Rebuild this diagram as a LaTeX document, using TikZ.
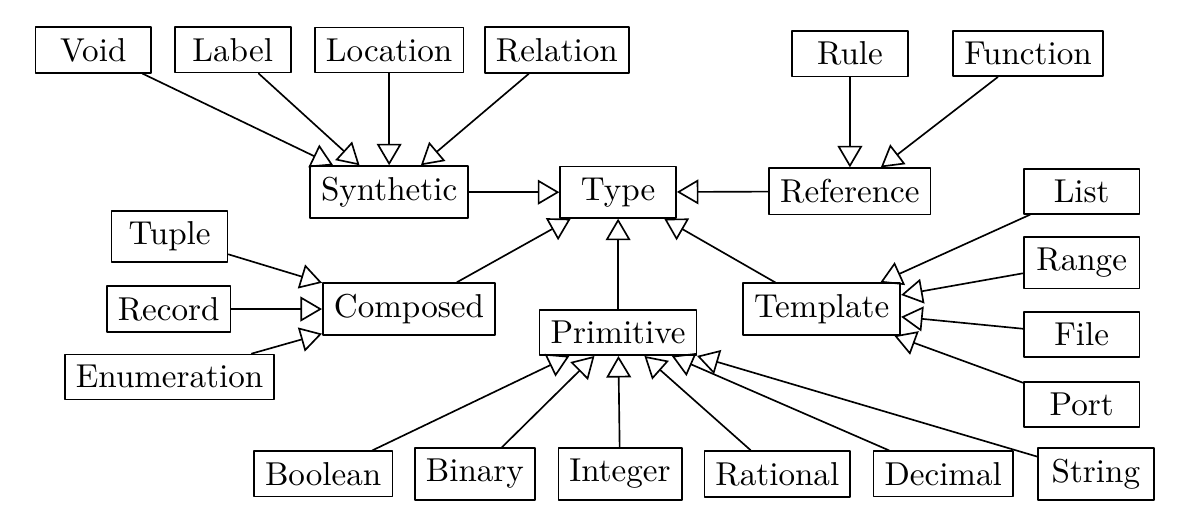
\documentclass[tikz,border=0pt]{standalone}
\usetikzlibrary{arrows.meta}

\begin{document}
\begin{tikzpicture}[line cap=round, line join=round, line width=0.5pt,
  box/.style={draw, minimum width=35pt},
  isa/.style={-{Triangle[open, length=6.5pt, width=7.5pt]}}]

\useasboundingbox (0,0) rectangle (12.64,5.57);

%==================================================
% Root and its direct kinds
%==================================================
\node[box] (Type)      at (6.56,3.53) {Type};
\node[box] (Synthetic) at (4.13,3.53) {Synthetic};
\node[box] (Reference) at (9.02,3.54) {Reference};
\node[box] (Composed)  at (4.34,2.29) {Composed};
\node[box] (Primitive) at (6.56,2.04) {Primitive};
\node[box] (Template)  at (8.72,2.29) {Template};

%==================================================
% Top row
%==================================================
\node[box] (Void)     at (0.99,5.04) {Void};
\node[box] (Label)    at (2.47,5.04) {Label};
\node[box] (Location) at (4.13,5.04) {Location};
\node[box] (Relation) at (5.91,5.04) {Relation};
\node[box] (Rule)     at (9.02,5.00) {Rule};
\node[box] (Function) at (10.91,5.00) {Function};

%==================================================
% Left column
%==================================================
\node[box] (Tuple)       at (1.80,3.06) {Tuple};
\node[box] (Record)      at (1.79,2.29) {Record};
\node[box] (Enumeration) at (1.80,1.57) {Enumeration};

%==================================================
% Right column
%==================================================
\node[box] (List)  at (11.48,3.54) {List};
\node[box] (Range) at (11.48,2.78) {Range};
\node[box] (File)  at (11.48,2.02) {File};
\node[box] (Port)  at (11.48,1.28) {Port};

%==================================================
% Bottom row
%==================================================
\node[box] (Boolean)  at (3.43,0.54) {Boolean};
\node[box] (Binary)   at (5.04,0.54) {Binary};
\node[box] (Integer)  at (6.58,0.54) {Integer};
\node[box] (Rational) at (8.25,0.54) {Rational};
\node[box] (Decimal)  at (10.01,0.54) {Decimal};
\node[box] (String)   at (11.63,0.54) {String};

%--------------------------------------------------
% Generalisation arrows
%--------------------------------------------------
\foreach \c in {Synthetic,Reference,Composed,Primitive,Template}{
  \draw[isa] (\c) -- (Type);
}
\foreach \c in {Void,Label,Location,Relation}{
  \draw[isa] (\c) -- (Synthetic);
}
\foreach \c in {Rule,Function}{
  \draw[isa] (\c) -- (Reference);
}
\foreach \c in {Tuple,Record,Enumeration}{
  \draw[isa] (\c) -- (Composed);
}
\foreach \c in {List,Range,File,Port}{
  \draw[isa] (\c) -- (Template);
}
\foreach \c in {Boolean,Binary,Integer,Rational,Decimal,String}{
  \draw[isa] (\c) -- (Primitive);
}

\end{tikzpicture}
\end{document}
